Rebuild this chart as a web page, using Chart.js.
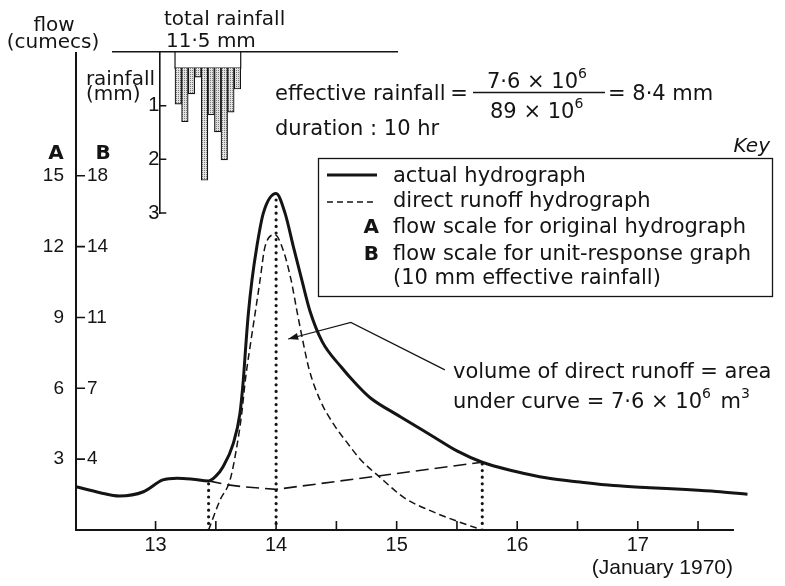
<!DOCTYPE html>
<html>
<head>
<meta charset="utf-8">
<script src="https://cdn.jsdelivr.net/npm/chart.js@4.4.1/dist/chart.umd.min.js"></script>
<style>
  body { margin: 0; background: #fff; }
  #wrap { position: relative; width: 785px; height: 586px; }
  #wrap canvas { position: absolute; left: 0; top: 0; }
</style>
</head>
<body>
<div id="wrap">
  <canvas id="hydro" width="785" height="586"></canvas>
  <canvas id="rain" width="400" height="230"></canvas>
</div>
<script>
// flood of 12-17 January 1970: days on x, cumecs on y (scale A)
const actualDays = [12.34, 12.54, 12.70, 12.90, 13.06, 13.18, 13.31, 13.44, 13.50, 13.56, 13.645, 13.70, 13.728, 13.748, 13.77, 13.80, 13.84, 13.894, 14.0, 14.074, 14.143, 14.213, 14.282, 14.38, 14.54, 14.66, 14.78, 15.03, 15.305, 15.5, 15.71, 15.97, 16.25, 16.52, 16.80, 17.10, 17.40, 17.65, 17.91];
const actualFlow = [1.83, 1.58, 1.44, 1.62, 2.12, 2.19, 2.15, 2.08, 2.28, 2.68, 3.67, 4.94, 6.36, 7.77, 9.18, 10.59, 12.0, 13.42, 14.25, 13.42, 12.0, 10.59, 9.25, 8.0, 6.9, 6.2, 5.6, 4.8, 3.95, 3.35, 2.87, 2.5, 2.2, 2.03, 1.88, 1.79, 1.71, 1.63, 1.51];

const runoffDays = [13.44, 13.535, 13.618, 13.674, 13.715, 13.745, 13.784, 13.826, 13.867, 13.908, 13.99, 14.058, 14.124, 14.174, 14.224, 14.274, 14.365, 14.481, 14.589, 14.697, 14.846, 15.07, 15.264, 15.513, 15.71];
const runoffFlow = [0, 1.27, 2.12, 3.53, 4.94, 6.36, 7.77, 9.18, 10.59, 12.0, 12.5, 11.86, 10.59, 9.24, 7.95, 6.8, 5.5, 4.45, 3.7, 3.0, 2.3, 1.34, 0.85, 0.35, 0];

// baseflow separation line
const baseDays = [13.44, 13.60, 13.73, 14.0, 15.71];
const baseFlow = [2.08, 1.91, 1.83, 1.72, 2.87];

// dotted verticals: start of runoff, peak, end of runoff
const dropDays = [13.44, 14.0, 15.71];
const dropFlow = [2.08, 14.25, 2.87];

const dayTicks = [13, 13.5, 14, 14.5, 15, 15.5, 16, 16.5, 17, 17.5];
const flowTicksA = [3, 6, 9, 12, 15];
const flowTicksB = [4, 7, 11, 14, 18];

// hourly rainfall (mm), hung from the duration bracket
const rainHours = [1, 2, 3, 4, 5, 6, 7, 8, 9, 10];
const rainMm = [0.97, 1.30, 0.78, 0.47, 2.39, 1.17, 1.49, 2.01, 1.12, 0.69];
const rainTicks = [1, 2, 3];
const rainBase = 0.3;

// arrow "volume of direct runoff" -> area under curve
const leaderDays = [15.40, 14.62, 14.10];
const leaderFlow = [6.78, 8.79, 8.09];

const ink = '#141414';
const body = '21px "DejaVu Sans"';
const small = '20px "DejaVu Sans"';
const bold = 'bold 20px "DejaVu Sans"';

Chart.defaults.font.family = '"Liberation Sans", Arial, sans-serif';
Chart.defaults.color = ink;

function say(ctx, s, x, y, font, align) {
  ctx.font = font || body;
  ctx.textAlign = align || 'left';
  ctx.fillText(s, x, y);
}

function runs(ctx, list, x, y) {
  ctx.textAlign = 'left';
  list.forEach(([s, up]) => {
    ctx.font = up ? '14px "DejaVu Sans"' : body;
    ctx.fillText(s, x, up ? y - 10 : y);
    x += ctx.measureText(s).width + (up ? 3 : 0);
  });
}

const notes = {
  id: 'notes',
  afterDraw(chart) {
    const { ctx, scales: { x, y } } = chart;
    ctx.save();
    ctx.strokeStyle = ink;
    ctx.fillStyle = ink;
    ctx.textBaseline = 'alphabetic';

    // ticks point into the plot
    ctx.lineWidth = 1.6;
    ctx.beginPath();
    x.ticks.forEach(t => {
      const px = x.getPixelForValue(t.value);
      ctx.moveTo(px, y.bottom); ctx.lineTo(px, y.bottom - 9);
    });
    y.ticks.forEach(t => {
      const py = y.getPixelForValue(t.value);
      ctx.moveTo(x.left, py); ctx.lineTo(x.left + 9, py);
    });
    ctx.stroke();

    say(ctx, 'flow', 54, 31, small, 'center');
    say(ctx, '(cumecs)', 53, 48, small, 'center');
    say(ctx, 'A', 56, 159, bold, 'center');
    say(ctx, 'B', 103, 159, bold, 'center');

    say(ctx, 'effective rainfall', 275, 100);
    say(ctx, '=', 459, 100, body, 'center');
    runs(ctx, [['7·6 × 10'], ['6', 1]], 487, 88);
    runs(ctx, [['89 × 10'], ['6', 1]], 490, 118);
    ctx.lineWidth = 1.3;
    ctx.beginPath(); ctx.moveTo(473, 92.5); ctx.lineTo(605, 92.5); ctx.stroke();
    say(ctx, '= 8·4 mm', 608, 100);
    say(ctx, 'duration : 10 hr', 275, 135);

    // key
    say(ctx, 'Key', 770, 152, 'italic 20px "DejaVu Sans"', 'right');
    ctx.lineWidth = 1.3;
    ctx.strokeRect(318.5, 158.5, 454, 138);
    ctx.lineWidth = 3;
    ctx.beginPath(); ctx.moveTo(327, 175); ctx.lineTo(377, 175); ctx.stroke();
    ctx.lineWidth = 1.4; ctx.setLineDash([6, 4]);
    ctx.beginPath(); ctx.moveTo(327, 202); ctx.lineTo(377, 202); ctx.stroke();
    ctx.setLineDash([]);
    say(ctx, 'actual hydrograph', 393, 182);
    say(ctx, 'direct runoff hydrograph', 393, 207);
    say(ctx, 'A', 379, 233, bold, 'right');
    say(ctx, 'flow scale for original hydrograph', 393, 233);
    say(ctx, 'B', 379, 260, bold, 'right');
    say(ctx, 'flow scale for unit-response graph', 393, 260);
    say(ctx, '(10 mm effective rainfall)', 393, 284);

    say(ctx, 'volume of direct runoff = area', 453, 378);
    runs(ctx, [['under curve = 7·6 × 10'], ['6', 1], [' m'], ['3', 1]], 453, 408);

    const pts = leaderDays.map((d, i) => [x.getPixelForValue(d), y.getPixelForValue(leaderFlow[i])]);
    ctx.lineWidth = 1.2;
    ctx.beginPath();
    ctx.moveTo(pts[0][0], pts[0][1]);
    ctx.lineTo(pts[1][0], pts[1][1]);
    ctx.lineTo(pts[2][0], pts[2][1]);
    ctx.stroke();
    const [tx, ty] = pts[2], [cx, cy] = pts[1];
    const a = Math.atan2(ty - cy, tx - cx);
    ctx.beginPath();
    ctx.moveTo(tx, ty);
    ctx.lineTo(tx - 10 * Math.cos(a) + 3.5 * Math.sin(a), ty - 10 * Math.sin(a) - 3.5 * Math.cos(a));
    ctx.lineTo(tx - 10 * Math.cos(a) - 3.5 * Math.sin(a), ty - 10 * Math.sin(a) + 3.5 * Math.cos(a));
    ctx.closePath();
    ctx.fill();
    ctx.restore();
  }
};

const pts = (xs, ys) => xs.map((v, i) => ({ x: v, y: ys[i] }));

const drops = dropDays.map((d, i) => ({
  data: [{ x: d, y: 0 }, { x: d, y: dropFlow[i] }],
  borderColor: ink,
  borderWidth: 3.2,
  borderDash: [0, 6.6],
  borderCapStyle: 'round',
  pointRadius: 0,
  tension: 0
}));

new Chart(document.getElementById('hydro'), {
  type: 'line',
  data: {
    datasets: [
      {
        label: 'actual hydrograph',
        data: pts(actualDays, actualFlow),
        borderColor: ink,
        borderWidth: 3,
        pointRadius: 0,
        cubicInterpolationMode: 'monotone',
        clip: false
      },
      {
        label: 'direct runoff hydrograph',
        data: pts(runoffDays, runoffFlow),
        borderColor: ink,
        borderWidth: 1.5,
        borderDash: [7, 4],
        pointRadius: 0,
        cubicInterpolationMode: 'monotone'
      },
      {
        label: 'baseflow',
        data: pts(baseDays, baseFlow),
        borderColor: ink,
        borderWidth: 1.6,
        borderDash: [13, 6],
        pointRadius: 0,
        tension: 0
      },
      ...drops
    ]
  },
  options: {
    responsive: false,
    animation: false,
    events: [],
    layout: { padding: { top: 53, right: 52, left: 0, bottom: 0 } },
    plugins: { legend: { display: false }, tooltip: { enabled: false } },
    scales: {
      x: {
        type: 'linear',
        min: 12.34,
        max: 17.79,
        afterBuildTicks: s => { s.ticks = dayTicks.map(v => ({ value: v })); },
        afterFit: s => { s.height = 56; },
        ticks: {
          autoSkip: false,
          maxRotation: 0,
          padding: 3,
          font: { size: 20 },
          callback: v => Number.isInteger(v) ? v : ''
        },
        grid: { drawOnChartArea: false, drawTicks: false },
        border: { color: ink, width: 2 },
        title: {
          display: true,
          text: '(January 1970)',
          align: 'end',
          font: { size: 21 },
          padding: { top: 0, bottom: 5 }
        }
      },
      y: {
        position: 'left',
        weight: 1,
        min: 0,
        max: 20.2,
        afterBuildTicks: s => { s.ticks = flowTicksA.map(v => ({ value: v })); },
        afterFit: s => { s.width = 76; },
        ticks: { padding: 12, font: { size: 19 } },
        grid: { drawOnChartArea: false, drawTicks: false },
        border: { color: ink, width: 2 }
      },
      yB: {
        position: 'left',
        weight: 0,
        min: 0,
        max: 20.2,
        afterBuildTicks: s => { s.ticks = flowTicksA.map(v => ({ value: v })); },
        afterFit: s => { s.width = 0; },
        ticks: { mirror: true, padding: 11, font: { size: 19 }, callback: (v, i) => flowTicksB[i] },
        grid: { display: false, drawTicks: false },
        border: { display: false }
      }
    }
  },
  plugins: [notes]
});

// hyetograph drawn on its own canvas over the top-left corner
const rainCanvas = document.getElementById('rain');
const tile = document.createElement('canvas');
tile.width = 2; tile.height = 2;
const tg = tile.getContext('2d');
tg.fillStyle = '#e2e2e2'; tg.fillRect(0, 0, 2, 2);
tg.fillStyle = '#7a7a7a'; tg.fillRect(0, 0, 1, 1);
const stipple = rainCanvas.getContext('2d').createPattern(tile, 'repeat');

const hourMin = -8.94, hourMax = 34.29, rainAxisHour = -1.89;

const rainNotes = {
  id: 'rainNotes',
  afterDraw(chart) {
    const { ctx, scales: { x, y } } = chart;
    const ax = x.getPixelForValue(rainAxisHour);
    ctx.save();
    ctx.strokeStyle = ink;
    ctx.fillStyle = ink;
    ctx.lineWidth = 1.5;
    ctx.beginPath();
    y.ticks.forEach(t => {
      const py = y.getPixelForValue(t.value);
      ctx.moveTo(ax, py); ctx.lineTo(ax + 7, py);
    });
    ctx.stroke();
    say(ctx, 'total rainfall', 164, 25, small);
    say(ctx, '11·5 mm', 166, 47, small);
    say(ctx, 'rainfall', 155, 85, small, 'right');
    say(ctx, '(mm)', 86, 100, small);
    ctx.restore();
  }
};

new Chart(rainCanvas, {
  type: 'bar',
  data: {
    datasets: [
      {
        type: 'bar',
        label: 'rainfall',
        data: pts(rainHours, rainMm),
        base: rainBase,
        backgroundColor: stipple,
        borderColor: ink,
        borderWidth: 1.2,
        barPercentage: 1,
        categoryPercentage: 1
      },
      {
        type: 'line',
        label: 'duration',
        data: [
          { x: rainHours[0] - 0.5, y: 0 },
          { x: rainHours[0] - 0.5, y: rainBase },
          { x: rainHours[rainHours.length - 1] + 0.5, y: rainBase },
          { x: rainHours[rainHours.length - 1] + 0.5, y: 0 }
        ],
        borderColor: ink,
        borderWidth: 1.2,
        pointRadius: 0,
        tension: 0
      }
    ]
  },
  options: {
    responsive: false,
    animation: false,
    events: [],
    layout: { padding: { top: 52, right: 3, left: 113, bottom: 15 } },
    plugins: { legend: { display: false }, tooltip: { enabled: false } },
    scales: {
      x: {
        type: 'linear',
        position: 'top',
        offset: false,
        min: hourMin,
        max: hourMax,
        afterFit: s => { s.height = 0; },
        ticks: { display: false },
        grid: { display: false, drawTicks: false, offset: false },
        border: { color: ink, width: 1.5 }
      },
      y: {
        position: { x: rainAxisHour },
        reverse: true,
        min: 0,
        max: 3,
        afterBuildTicks: s => { s.ticks = rainTicks.map(v => ({ value: v })); },
        ticks: { padding: 5, font: { size: 20 } },
        grid: { display: false, drawTicks: false },
        border: { color: ink, width: 1.6 }
      }
    }
  },
  plugins: [rainNotes]
});
</script>
</body>
</html>
